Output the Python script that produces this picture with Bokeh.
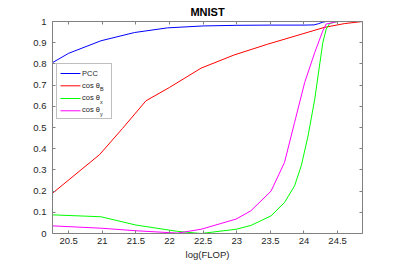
from bokeh.plotting import figure
from bokeh.models import Range1d, LinearAxis, FixedTicker, Legend, LegendItem
from bokeh.core.properties import value
from bokeh.embed import file_html
from bokeh.resources import INLINE

# ---- data ----
flop_pcc = [20.26, 20.5, 20.98, 21.48, 21.97, 22.5, 23.0, 23.5, 24.0, 24.15, 24.22, 24.28, 24.33, 24.5, 24.87]
pcc      = [0.806, 0.850, 0.909, 0.948, 0.970, 0.979, 0.982, 0.983, 0.983, 0.984, 0.990, 0.997, 1.0, 1.0, 1.0]

flop_b = [20.26, 20.96, 21.3, 21.65, 22.0, 22.47, 22.96, 23.46, 23.96, 24.30, 24.6, 24.87]
cos_b  = [0.190, 0.372, 0.495, 0.626, 0.689, 0.780, 0.842, 0.893, 0.940, 0.972, 0.990, 1.0]

flop_x = [20.26, 20.98, 21.5, 22.12, 22.47, 22.99, 23.21, 23.51, 23.71, 23.86, 23.96, 24.06, 24.16, 24.23, 24.28, 24.33, 24.38, 24.5, 24.87]
cos_x  = [0.088, 0.079, 0.040, 0.010, 0.0, 0.020, 0.038, 0.083, 0.146, 0.225, 0.320, 0.460, 0.634, 0.790, 0.900, 0.964, 0.990, 1.0, 1.0]

flop_y = [20.26, 20.98, 21.5, 22.0, 22.12, 22.47, 22.99, 23.21, 23.51, 23.71, 23.86, 24.01, 24.16, 24.28, 24.33, 24.5, 24.87]
cos_y  = [0.036, 0.025, 0.013, 0.004, 0.002, 0.020, 0.068, 0.107, 0.200, 0.335, 0.524, 0.712, 0.854, 0.956, 0.988, 1.0, 1.0]

x_ticks = [20.5, 21, 21.5, 22, 22.5, 23, 23.5, 24, 24.5]
x_tick_labels = ["20.5", "21", "21.5", "22", "22.5", "23", "23.5", "24", "24.5"]
y_ticks = [0, 0.1, 0.2, 0.3, 0.4, 0.5, 0.6, 0.7, 0.8, 0.9, 1]
y_tick_labels = ["0", "0.1", "0.2", "0.3", "0.4", "0.5", "0.6", "0.7", "0.8", "0.9", "1"]

series_labels = ["PCC", "cos θ", "cos θ", "cos θ"]
series_colors = ["#0000ff", "#ff0000", "#00ff00", "#ff00ff"]
subscripts = ["B", "x", "y"]
title_text = "MNIST"
xlabel_text = "log(FLOP)"

x_min, x_max = 20.26, 24.87
y_min, y_max = 0.0, 1.0

FONT = "Liberation Sans"
TXT = "#262626"
AX = "#808080"

p = figure(width=399, height=262, output_backend="svg", toolbar_location=None,
           x_range=Range1d(x_min, x_max), y_range=Range1d(y_min, y_max),
           min_border_left=52, min_border_right=37, min_border_top=21, min_border_bottom=29,
           background_fill_color="white", border_fill_color="white")
p.grid.visible = False
p.outline_line_color = None

p.title.text = title_text
p.title.align = "center"
p.title.text_font = FONT
p.title.text_font_size = "11px"
p.title.text_font_style = "bold"
p.title.text_color = "#000000"
p.title.standoff = 7
p.title.offset = 0

def style_axis(ax, standoff, show_labels=True):
    ax.major_tick_in = 3
    ax.major_tick_out = 0
    ax.minor_tick_in = 0
    ax.minor_tick_out = 0
    ax.axis_line_color = AX
    ax.major_tick_line_color = AX
    ax.major_label_text_font = FONT
    ax.major_label_standoff = standoff
    if show_labels:
        ax.major_label_text_font_size = "9.5px"
        ax.major_label_text_color = TXT
    else:
        ax.major_label_text_font_size = "1px"
        ax.major_label_text_color = None

p.xaxis.ticker = FixedTicker(ticks=x_ticks)
p.yaxis.ticker = FixedTicker(ticks=y_ticks)
p.xaxis.major_label_overrides = dict(zip(x_ticks, x_tick_labels))
p.yaxis.major_label_overrides = dict(zip(y_ticks, y_tick_labels))
for ax in p.xaxis:
    style_axis(ax, 4)
    ax.axis_label = xlabel_text
    ax.axis_label_text_font = FONT
    ax.axis_label_text_font_size = "9.5px"
    ax.axis_label_text_font_style = "normal"
    ax.axis_label_text_color = TXT
    ax.axis_label_standoff = 2
for ax in p.yaxis:
    style_axis(ax, 6)

top = LinearAxis(ticker=FixedTicker(ticks=x_ticks))
style_axis(top, 0, show_labels=False)
right = LinearAxis(ticker=FixedTicker(ticks=y_ticks))
style_axis(right, 0, show_labels=False)
p.add_layout(top, "above")
p.add_layout(right, "right")

series = [(flop_pcc, pcc), (flop_b, cos_b), (flop_x, cos_x), (flop_y, cos_y)]
for (xs, ys), col in zip(series, series_colors):
    p.line(xs, ys, line_color=col, line_width=1)

# invisible proxies so the legend lays out its rows; the coloured samples are drawn below
proxies = [p.line(xs, ys, line_alpha=0) for xs, ys in series]

legend = Legend(items=[LegendItem(label=lab, renderers=[r])
                       for lab, r in zip(series_labels, proxies)],
                location=(4, 114), margin=0, padding=3, spacing=0,
                label_height=12, glyph_height=12, glyph_width=20,
                label_standoff=2, label_width=26,
                label_text_font=FONT, label_text_font_size="7.5px", label_text_color=TXT,
                border_line_color=AX, border_line_width=1,
                background_fill_color="white", background_fill_alpha=0)
p.add_layout(legend)

# legend sample lines (coloured)
legend_x0 = [20.379] * 4
legend_x1 = [20.676] * 4
legend_y = [0.7547, 0.6967, 0.6368, 0.5788]
p.segment(x0=legend_x0, y0=legend_y, x1=legend_x1, y1=legend_y,
          line_color=series_colors, line_width=1)

# subscripts of the legend labels
sub_x = [20.966, 20.966, 20.966]
sub_y = [0.680, 0.619, 0.562]
p.text(x=sub_x, y=sub_y, text=subscripts, text_font=value(FONT), text_font_size="5.5px",
       text_color=TXT, text_baseline="middle", text_align="left")

open("out.html", "w").write(file_html(p, INLINE))
